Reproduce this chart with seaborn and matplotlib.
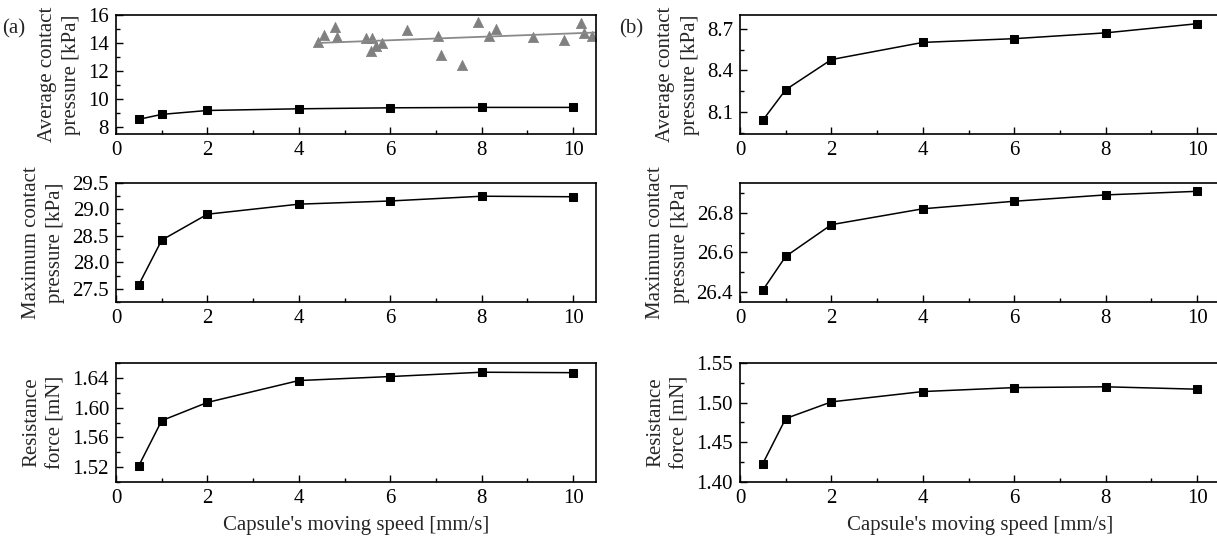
import numpy as np
import matplotlib
matplotlib.use('Agg')
import matplotlib.pyplot as plt
import seaborn as sns
from matplotlib.ticker import MultipleLocator, FormatStrFormatter

sns.set_style('ticks')
plt.rcParams['font.family'] = ['Liberation Serif', 'DejaVu Serif']

# 캡슐 이동 속도 (x축 공통)
speed = [0.5, 1, 2, 4, 6, 8, 10]

# (a) 패널 값
avg_a = [8.55, 8.9, 9.18, 9.3, 9.37, 9.4, 9.4]
max_a = [27.58, 28.42, 28.91, 29.1, 29.16, 29.25, 29.24]
res_a = [1.522, 1.5825, 1.607, 1.6364, 1.6418, 1.6476, 1.647]

# (a) 상단 패널의 회색 삼각형 + 추세선
tri_x = [4.41, 4.54, 4.79, 4.83, 5.47, 5.6, 5.57, 5.69, 5.81, 6.37, 7.05,
         7.11, 7.56, 7.91, 8.17, 8.31, 9.13, 9.81, 10.18, 10.24, 10.41]
tri_y = [14.05, 14.6, 15.15, 14.45, 14.35, 14.35, 13.45, 13.8, 14.0, 14.9, 14.5,
         13.15, 12.4, 15.5, 14.5, 15.0, 14.45, 14.25, 15.45, 14.7, 14.5]
trend_x = [4.4, 10.5]
trend_y = [14.0, 14.75]

# (b) 패널 값
avg_b = [8.04, 8.26, 8.478, 8.602, 8.629, 8.671, 8.737]
max_b = [26.41, 26.58, 26.74, 26.82, 26.858, 26.89, 26.908]
res_b = [1.4233, 1.48, 1.501, 1.514, 1.519, 1.520, 1.517]

ylabels = ['Average contact\npressure [kPa]', 'Maximum contact\npressure [kPa]',
           'Resistance\nforce [mN]']
xlabel = "Capsule's moving speed [mm/s]"

W, H = 1217, 540
fig = plt.figure(figsize=(W / 100, H / 100), dpi=100)

# 픽셀 단위 레이아웃 (top, bottom) / (left, right)
rows = [(15, 134), (183, 302), (363, 482)]
cols = [(116, 596), (740, 1220)]


def make_ax(col, row):
    x0, x1 = cols[col]
    y0, y1 = rows[row]
    return fig.add_axes([x0 / W, 1 - y1 / H, (x1 - x0) / W, (y1 - y0) / H])


def style(ax, ylim, major, minor, label):
    ax.set_xlim(0, 10.5)
    ax.set_ylim(*ylim)
    ax.xaxis.set_major_locator(MultipleLocator(2))
    ax.xaxis.set_minor_locator(MultipleLocator(1))
    ax.yaxis.set_major_locator(MultipleLocator(major))
    ax.yaxis.set_minor_locator(MultipleLocator(minor))
    ax.tick_params(which='both', direction='in', top=False, right=False,
                   labelsize=15, width=1, colors='black', pad=5)
    ax.tick_params(which='major', length=5)
    ax.tick_params(which='minor', length=3)
    for s in ax.spines.values():
        s.set_linewidth(1.2)
        s.set_color('black')
    ax.set_ylabel(label, fontsize=15, multialignment='center', linespacing=1.4,
                  labelpad=5)
    ax.set_xlabel('')


line_kw = dict(color='black', marker='s', markersize=5.5, linewidth=1.1,
               markeredgecolor='black')

# ---- (a)
ax = make_ax(0, 0)
sns.lineplot(x=trend_x, y=trend_y, color='#8a8a8a', linewidth=1.3, ax=ax)
sns.scatterplot(x=tri_x, y=tri_y, marker='^', color='#808080', s=55,
                edgecolor='#808080', linewidth=0.5, ax=ax)
sns.lineplot(x=speed, y=avg_a, ax=ax, **line_kw)
style(ax, (7.5, 16), 2, 1, ylabels[0])

ax = make_ax(0, 1)
sns.lineplot(x=speed, y=max_a, ax=ax, **line_kw)
style(ax, (27.25, 29.5), 0.5, 0.25, ylabels[1])
ax.yaxis.set_major_formatter(FormatStrFormatter('%.1f'))

ax = make_ax(0, 2)
sns.lineplot(x=speed, y=res_a, ax=ax, **line_kw)
style(ax, (1.50, 1.66), 0.04, 0.02, ylabels[2])
ax.set_yticks([1.52, 1.56, 1.60, 1.64])
ax.yaxis.set_major_formatter(FormatStrFormatter('%.2f'))
ax.set_xlabel(xlabel, fontsize=15, labelpad=6)

# ---- (b)
ax = make_ax(1, 0)
sns.lineplot(x=speed, y=avg_b, ax=ax, **line_kw)
style(ax, (7.94, 8.80), 0.3, 0.15, ylabels[0])
ax.set_yticks([8.1, 8.4, 8.7])
ax.yaxis.set_major_formatter(FormatStrFormatter('%.1f'))

ax = make_ax(1, 1)
sns.lineplot(x=speed, y=max_b, ax=ax, **line_kw)
style(ax, (26.35, 26.95), 0.2, 0.1, ylabels[1])
ax.set_yticks([26.4, 26.6, 26.8])
ax.yaxis.set_major_formatter(FormatStrFormatter('%.1f'))

ax = make_ax(1, 2)
sns.lineplot(x=speed, y=res_b, ax=ax, **line_kw)
style(ax, (1.40, 1.55), 0.05, 0.025, ylabels[2])
ax.yaxis.set_major_formatter(FormatStrFormatter('%.2f'))
ax.set_xlabel(xlabel, fontsize=15, labelpad=6)

fig.text(2 / W, 1 - 29 / H, '(a)', fontsize=15, va='center', ha='left')
fig.text(619 / W, 1 - 29 / H, '(b)', fontsize=15, va='center', ha='left')

fig.savefig('out.png', dpi=100)
